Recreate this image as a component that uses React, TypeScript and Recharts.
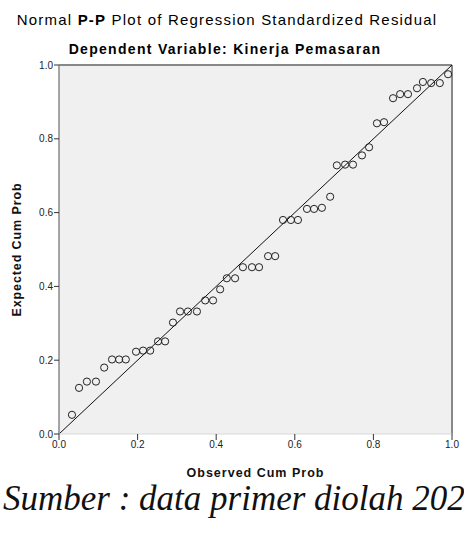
import { ScatterChart, Scatter, XAxis, YAxis, CartesianGrid, ReferenceLine } from "recharts";

// observed cumulative probability (x) and expected cumulative probability (y)
const observed = [
  0.033, 0.051, 0.071, 0.094, 0.115, 0.135, 0.153, 0.17, 0.196, 0.214, 0.232, 0.252, 0.27,
  0.29, 0.308, 0.328, 0.351, 0.372, 0.392, 0.41, 0.427, 0.448, 0.468, 0.491, 0.509, 0.532,
  0.55, 0.57, 0.59, 0.608, 0.631, 0.649, 0.669, 0.69, 0.707, 0.728, 0.748, 0.771, 0.789,
  0.809, 0.827, 0.85, 0.868, 0.888, 0.911, 0.926, 0.947, 0.969, 0.99,
];
const expected = [
  0.052, 0.125, 0.142, 0.142, 0.18, 0.202, 0.202, 0.202, 0.223, 0.226, 0.226, 0.251, 0.251,
  0.302, 0.332, 0.332, 0.332, 0.362, 0.362, 0.392, 0.422, 0.422, 0.452, 0.452, 0.452, 0.482,
  0.482, 0.58, 0.58, 0.58, 0.61, 0.61, 0.613, 0.643, 0.728, 0.73, 0.73, 0.755, 0.777,
  0.842, 0.845, 0.91, 0.921, 0.921, 0.937, 0.954, 0.951, 0.951, 0.975,
];
const ticks = [0, 0.2, 0.4, 0.6, 0.8, 1.0];

const points = observed.map((x, i) => ({ x, y: expected[i] }));

const FONT = "'Liberation Sans', Arial, sans-serif";

const Ring = (props: any) => {
  const { cx, cy } = props;
  if (cx == null || cy == null) return null;
  return <circle cx={cx} cy={cy} r={3.6} fill="none" stroke="#222" strokeWidth={1} />;
};

export default function App() {
  return (
    <div style={{ position: "absolute", left: 0, top: 0, width: 464, height: 539, overflow: "hidden", background: "#fff" }}>
      <div style={{ position: "absolute", top: 11, left: 0, width: 454, textAlign: "center", fontFamily: FONT, fontSize: 15, letterSpacing: 1.2, color: "#000", whiteSpace: "nowrap" }}>
        Normal <b>P-P</b> Plot of Regression Standardized Residual
      </div>
      <div style={{ position: "absolute", top: 41, left: 0, width: 450, textAlign: "center", fontFamily: FONT, fontSize: 14, letterSpacing: 1.3, fontWeight: "bold", color: "#000", whiteSpace: "nowrap" }}>
        Dependent Variable: Kinerja Pemasaran
      </div>
      <div style={{ position: "absolute", top: 0, left: 0 }}>
        <ScatterChart width={464} height={490} margin={{ top: 65, right: 12, bottom: 0, left: 0 }} style={{ fontFamily: FONT }}>
          <CartesianGrid horizontal={false} vertical={false} fill="#f0f0f0" />
          <XAxis
            type="number"
            dataKey="x"
            domain={[0, 1]}
            ticks={ticks}
            tickFormatter={(v: number) => v.toFixed(1)}
            height={56}
            tickSize={6}
            tickMargin={1}
            axisLine={{ stroke: "#d8d8d8" }}
            tickLine={{ stroke: "#333" }}
            tick={{ fontSize: 10, fill: "#222" }}
            label={{ value: "Observed Cum Prob", position: "insideBottom", offset: 13, style: { fontSize: 12.5, letterSpacing: 1, fontWeight: "bold", fill: "#111" } }}
          />
          <YAxis
            type="number"
            dataKey="y"
            domain={[0, 1]}
            ticks={ticks}
            tickFormatter={(v: number) => v.toFixed(1)}
            width={59}
            tickSize={5}
            tickMargin={1}
            axisLine={{ stroke: "#888", strokeWidth: 1.5 }}
            tickLine={{ stroke: "#333" }}
            tick={{ fontSize: 10, fill: "#222" }}
            label={{ value: "Expected Cum Prob", angle: -90, position: "insideLeft", offset: 17, style: { fontSize: 12.5, letterSpacing: 0.9, fontWeight: "bold", fill: "#111", textAnchor: "middle" } }}
          />
          <ReferenceLine y={1} stroke="#888" strokeWidth={2} />
          <ReferenceLine x={1} stroke="#888" strokeWidth={2} />
          <ReferenceLine segment={[{ x: 0, y: 0 }, { x: 1, y: 1 }]} stroke="#111" strokeWidth={1} />
          <Scatter data={points} shape={<Ring />} isAnimationActive={false} />
        </ScatterChart>
      </div>
      <div style={{ position: "absolute", top: 481, left: 3, fontFamily: "'Liberation Serif', 'Times New Roman', serif", fontStyle: "italic", fontSize: 35, lineHeight: 1, color: "#111", whiteSpace: "nowrap" }}>
        Sumber : data primer diolah 2022
      </div>
    </div>
  );
}
